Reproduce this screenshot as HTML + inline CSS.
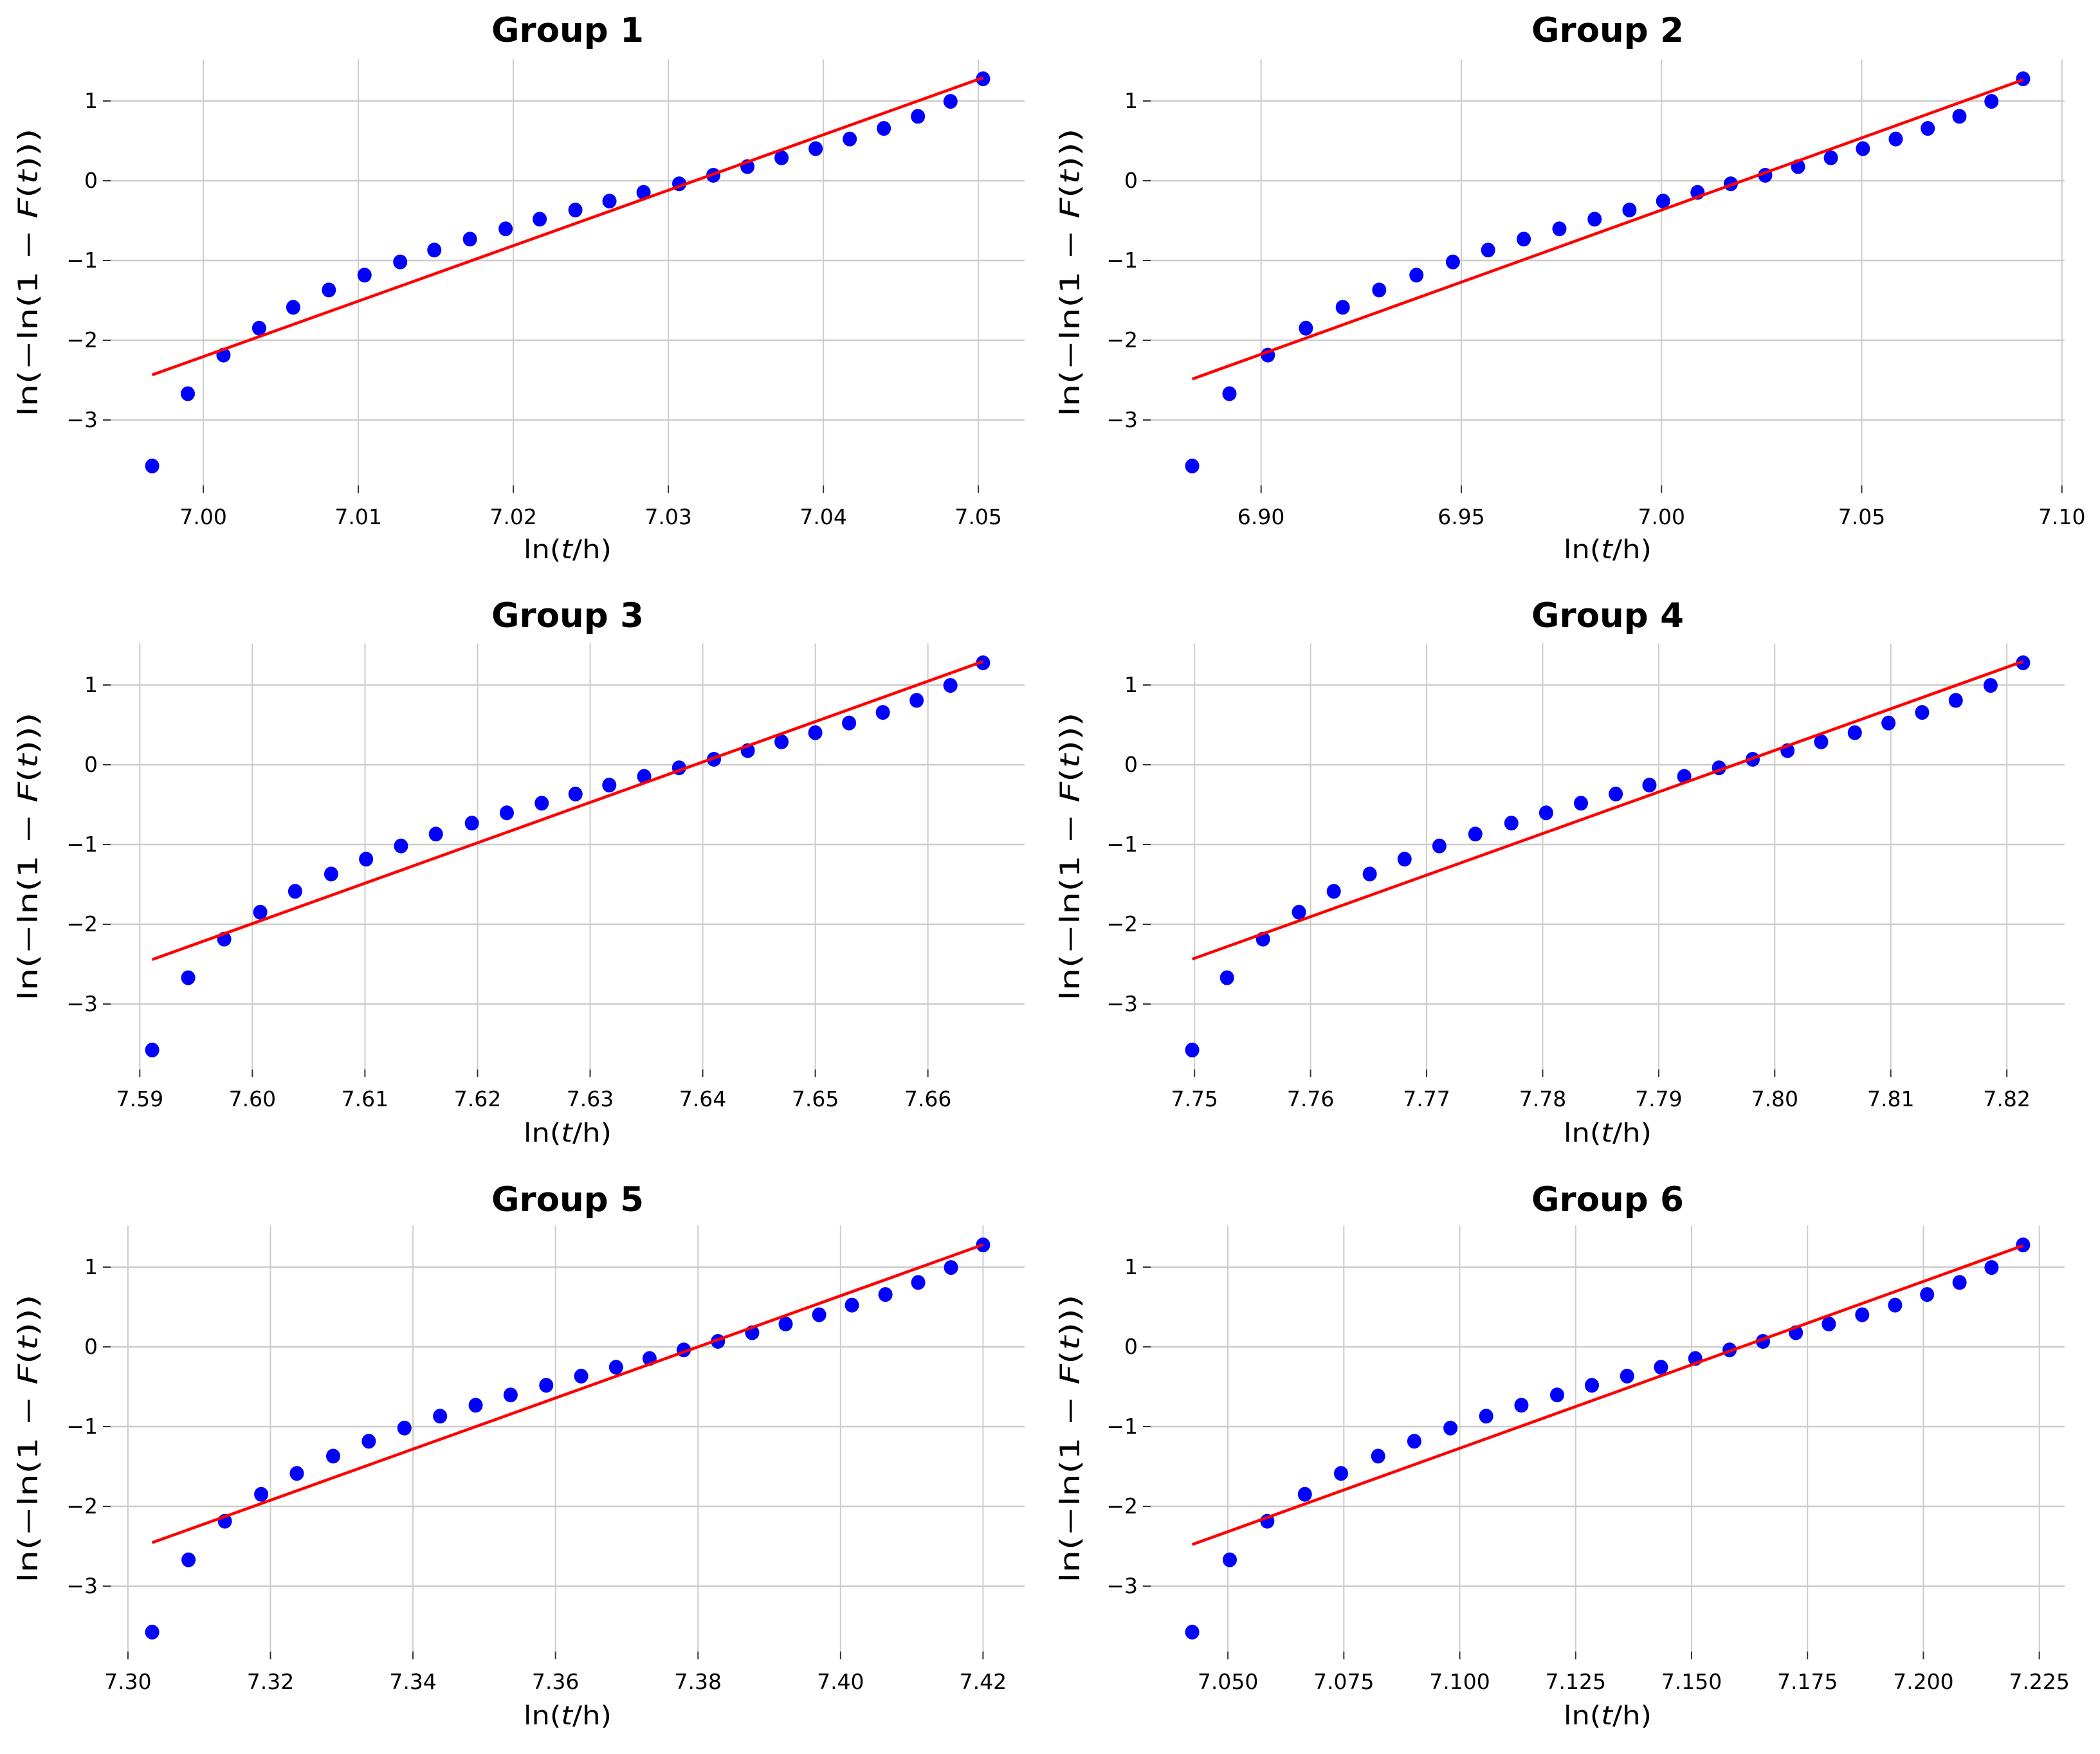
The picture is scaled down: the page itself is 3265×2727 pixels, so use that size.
<!DOCTYPE html>
<html><head><meta charset="utf-8"><style>
html,body{margin:0;padding:0;background:#fff;}
svg{display:block;font-family:"DejaVu Sans","Liberation Sans",sans-serif;}
</style></head><body>
<svg id="fig" width="3265" height="2727" viewBox="0 0 3265 2727" xmlns="http://www.w3.org/2000/svg"></svg>
<script>
const yValues = [-3.577,-2.670,-2.186,-1.849,-1.587,-1.370,-1.183,-1.018,-0.869,-0.732,-0.603,-0.482,-0.367,-0.255,-0.146,-0.038,0.069,0.177,0.287,0.402,0.523,0.656,0.807,0.995,1.278];
const groupNames = ["Group 1","Group 2","Group 3","Group 4","Group 5","Group 6"];
const xG1 = [6.9967,6.9990,7.0013,7.0036,7.0058,7.0081,7.0104,7.0127,7.0149,7.0172,7.0195,7.0217,7.0240,7.0262,7.0284,7.0307,7.0329,7.0351,7.0373,7.0395,7.0417,7.0439,7.0461,7.0482,7.0503];
const xG2 = [6.8828,6.8921,6.9017,6.9112,6.9204,6.9295,6.9388,6.9479,6.9567,6.9656,6.9745,6.9833,6.9920,7.0004,7.0090,7.0173,7.0259,7.0341,7.0423,7.0503,7.0585,7.0665,7.0744,7.0824,7.0903];
const xG3 = [7.5911,7.5943,7.5975,7.6007,7.6038,7.6070,7.6101,7.6132,7.6163,7.6195,7.6226,7.6257,7.6287,7.6317,7.6348,7.6379,7.6410,7.6440,7.6470,7.6500,7.6530,7.6560,7.6590,7.6620,7.6649];
const xG4 = [7.7498,7.7528,7.7559,7.7590,7.7620,7.7651,7.7681,7.7711,7.7742,7.7773,7.7803,7.7833,7.7863,7.7892,7.7922,7.7952,7.7981,7.8011,7.8040,7.8069,7.8098,7.8127,7.8156,7.8186,7.8214];
const xG5 = [7.3034,7.3085,7.3136,7.3187,7.3237,7.3288,7.3338,7.3388,7.3438,7.3488,7.3537,7.3587,7.3636,7.3685,7.3732,7.3780,7.3828,7.3876,7.3923,7.3970,7.4016,7.4063,7.4109,7.4155,7.4200];
const xG6 = [7.0423,7.0504,7.0585,7.0666,7.0744,7.0824,7.0902,7.0980,7.1057,7.1133,7.1210,7.1285,7.1361,7.1434,7.1508,7.1582,7.1654,7.1725,7.1796,7.1868,7.1939,7.2008,7.2078,7.2147,7.2215];
const xTicksG1 = ["7.00","7.01","7.02","7.03","7.04","7.05"];
const xTicksG2 = ["6.90","6.95","7.00","7.05","7.10"];
const xTicksG3 = ["7.59","7.60","7.61","7.62","7.63","7.64","7.65","7.66"];
const xTicksG4 = ["7.75","7.76","7.77","7.78","7.79","7.80","7.81","7.82"];
const xTicksG5 = ["7.30","7.32","7.34","7.36","7.38","7.40","7.42"];
const xTicksG6 = ["7.050","7.075","7.100","7.125","7.150","7.175","7.200","7.225"];
const yTicks = [-3,-2,-1,0,1];

const xSeries=[xG1,xG2,xG3,xG4,xG5,xG6];
const xTickSets=[xTicksG1,xTicksG2,xTicksG3,xTicksG4,xTicksG5,xTicksG6];
const NS="http://www.w3.org/2000/svg";
const svg=document.getElementById('fig');
function mk(tag,attrs,parent){const e=document.createElementNS(NS,tag);for(const k in attrs)e.setAttribute(k,attrs[k]);(parent||svg).appendChild(e);return e;}
const colLeft=[172,1789], axW=1421, rowY1=[157,1065,1970], pxPerUnit=124;
const titleY=[46,956,1864], tickLblY=[815,1720,2626], xLblY=[868,1775,2681];
const ymin0=Math.min(...yValues), ymax0=Math.max(...yValues), yr=ymax0-ymin0;
const ylo=ymin0-0.05*yr, yhi=ymax0+0.05*yr;

for(let g=0;g<6;g++){
  const col=g%2,row=Math.floor(g/2);
  const xs=xSeries[g];
  const xmin0=Math.min(...xs),xmax0=Math.max(...xs),xr=xmax0-xmin0;
  const xlo=xmin0-0.05*xr,xhi=xmax0+0.05*xr;
  const L=colLeft[col], R=L+axW;
  const top=rowY1[row]-(yhi-1)*pxPerUnit, bot=rowY1[row]+(1-ylo)*pxPerUnit;
  const X=v=>L+(v-xlo)/(xhi-xlo)*axW;
  const Y=v=>top+(yhi-v)/(yhi-ylo)*(bot-top);
  const grp=mk('g',{});
  
  
  const t=mk('text',{x:(L+R)/2,y:titleY[row]+19,'text-anchor':'middle','font-size':53,'font-weight':'bold',fill:'#000'},grp);
  t.textContent=groupNames[g];
  
  
  xTickSets[g].forEach(s=>{const v=parseFloat(s);const px=X(v);
    const gl=mk('line',{x1:px,x2:px,y1:top,y2:bot,stroke:'#cccccc','stroke-width':2},grp);
    
    
    mk('line',{x1:px,x2:px,y1:bot,y2:bot+12,stroke:'#333','stroke-width':2},grp);
    const tl=mk('text',{x:px,y:tickLblY[row],'text-anchor':'middle','font-size':33,fill:'#000'},grp);
    tl.textContent=s;
    
    
  });
  yTicks.forEach(v=>{const py=Y(v);
    const gl=mk('line',{x1:L,x2:R,y1:py,y2:py,stroke:'#cccccc','stroke-width':2.5},grp);
    
    
    mk('line',{x1:L-12,x2:L,y1:py,y2:py,stroke:'#333','stroke-width':2},grp);
    const tl=mk('text',{x:L-20,y:py+11,'text-anchor':'end','font-size':33,fill:'#000'},grp);
    tl.textContent=v<0?'\u2212'+Math.abs(v):String(v);
    
    
  });
  xs.forEach((xv,i)=>{const c=mk('ellipse',{cx:X(xv),cy:Y(yValues[i]),rx:11,ry:11.5,fill:'#0000ff'},grp);
    
    });
  const n=xs.length;let sx=0,sy=0,sxx=0,sxy=0;
  for(let i=0;i<n;i++){sx+=xs[i];sy+=yValues[i];sxx+=xs[i]*xs[i];sxy+=xs[i]*yValues[i];}
  const mx=sx/n,my=sy/n;const b=(sxy-n*mx*my)/(sxx-n*mx*mx);const a=my-b*mx;
  const ln=mk('line',{x1:X(xmin0),y1:Y(a+b*xmin0),x2:X(xmax0),y2:Y(a+b*xmax0),stroke:'#ff0000','stroke-width':4.5},grp);
  
  
  const xl=mk('text',{x:(L+R)/2,y:xLblY[row],'text-anchor':'middle','font-size':40,fill:'#000',textLength:137,lengthAdjust:'spacingAndGlyphs'},grp);
  xl.innerHTML='ln(<tspan font-style="italic">t</tspan>/h)';
  
  
  const lx=col===0?58:1678, ly=(top+bot)/2;
  const yl=mk('text',{x:lx,y:ly,'text-anchor':'middle','font-size':42,fill:'#000',textLength:448,lengthAdjust:'spacingAndGlyphs',transform:`rotate(-90 ${lx} ${ly})`},grp);
  yl.innerHTML='ln(\u2212ln(1 \u2212 <tspan font-style="italic">F</tspan>(<tspan font-style="italic">t</tspan>)))';
  
  
}
</script>
</body></html>
